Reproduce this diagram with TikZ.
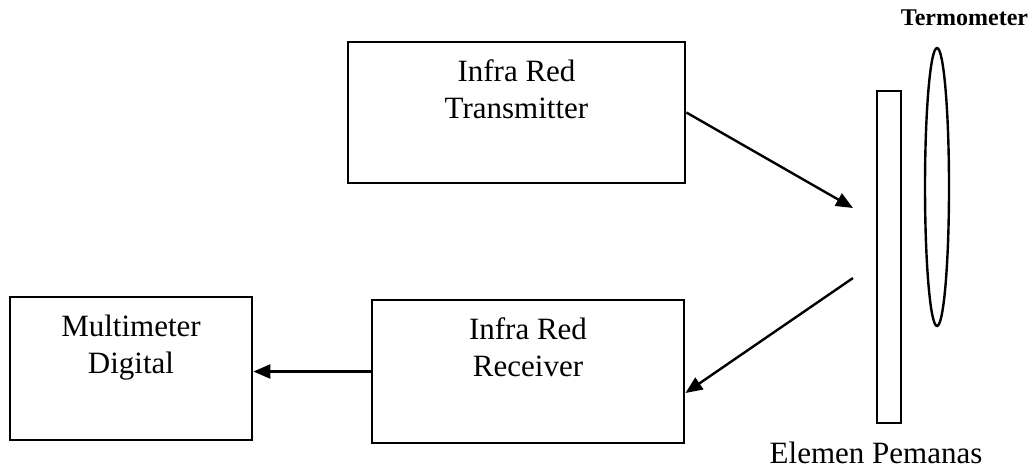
\documentclass[tikz,border=0pt]{standalone}
\usepackage{fontspec}
\setmainfont{Liberation Serif}
\usetikzlibrary{arrows.meta,calc,shapes.geometric}
\begin{document}
\begin{tikzpicture}[x=0.5pt,y=-0.5pt,
  box/.style={draw, line width=1.4pt, rectangle, inner sep=0pt},
  txt/.style={font=\fontsize{15.5}{18.5}\selectfont, align=center, inner sep=0pt, anchor=north},
  arr/.style={line width=1.2pt, -{Triangle[length=8.5pt,width=7pt]}}]
\useasboundingbox (0,0) rectangle (1032,468);
% boxes
\node[box, minimum width=168.5pt, minimum height=70.5pt] (tx) at (516.5,112.5) {};
\node[box, minimum width=156pt, minimum height=71.5pt] (rx) at (528,371.5) {};
\node[box, minimum width=121pt, minimum height=71.5pt] (mm) at (131,368.5) {};
\node[txt] (txt1) at ($(tx.north)+(0,19)$) {Infra Red\\Transmitter};
\node[txt] (txt2) at ($(rx.north)+(0,19)$) {Infra Red\\Receiver};
\node[txt] (txt3) at ($(mm.north)+(0,19)$) {Multimeter\\Digital};
% heating element and thermometer
\node[box, line width=1.2pt, minimum width=12pt, minimum height=166pt] (el) at (889,257) {};
\node[draw, ellipse, line width=1.2pt, minimum width=12pt, minimum height=139pt, inner sep=0pt] (th) at (937,187) {};
\node[font=\fontsize{15.5}{18.5}\selectfont, anchor=base, inner sep=0pt] (elab) at (876,463) {Elemen Pemanas};
\node[font=\fontsize{12}{14}\selectfont\bfseries, anchor=base, inner sep=0pt] (tlab) at (964.5,25) {Termometer};
% connectors
\coordinate (a1e) at (853,208);
\coordinate (a2s) at (853,278);
\draw[arr] (tx.east) -- (a1e);
\draw[arr] (a2s) -- ($(rx.east)+(0,21.5)$);
\draw[arr] (rx.west) -- (mm.east |- rx.west);
\end{tikzpicture}
\end{document}
